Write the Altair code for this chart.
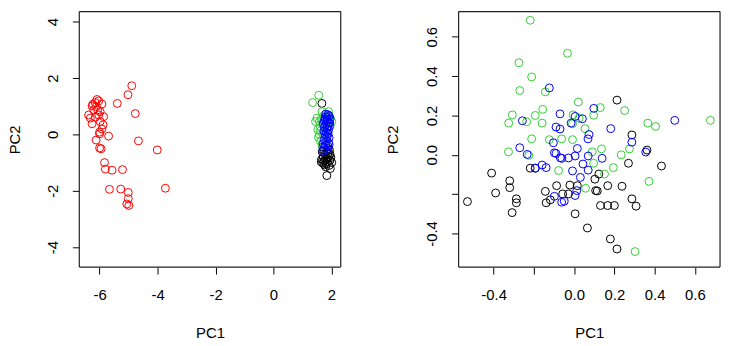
import altair as alt
import pandas as pd

# ---------------- Left panel (all four groups) ----------------
L_red_x = [-4.89, -5.02, -5.39, -4.77, -4.66, -4.01, -3.73, -5.69, -6.12, -6.00, -5.95,
           -5.83, -5.80, -5.57, -5.21, -5.66, -5.27, -5.01, -5.01, -5.06, -4.99,
           -6.09, -6.03, -6.15, -6.23, -6.26, -6.11, -5.92, -6.38, -6.32, -6.26,
           -6.15, -6.03, -5.86, -5.98, -5.88, -5.92, -6.00, -6.07, -5.98, -6.20, -6.00]
L_red_y = [1.73, 1.41, 1.10, 0.74, -0.23, -0.55, -1.91, -0.06, -0.20, -0.48, -0.51,
           -1.00, -1.23, -1.27, -1.25, -1.95, -1.94, -2.06, -2.28, -2.47, -2.52,
           1.24, 1.19, 1.13, 1.07, 1.01, 0.99, 1.08, 0.69, 0.58, 0.38,
           0.61, 0.69, 0.63, 0.46, 0.34, 0.19, 0.08, 0.87, 0.81, 0.87, 0.02]

L_green_x = [1.56, 1.35, 1.67, 1.50, 1.45, 1.53, 1.58, 1.62, 1.96, 2.01, 1.90, 1.75, 1.85,
             1.60, 1.80, 1.95, 1.70, 1.55, 1.65, 1.88, 1.72, 1.92, 1.58, 1.62, 1.78, 1.68]
L_green_y = [1.39, 1.13, 0.81, 0.58, 0.46, 0.17, -0.01, -0.24, 0.58, 0.46, 0.81, 0.30, 0.20,
             0.30, 0.72, 0.30, 0.02, -0.10, 0.55, 0.05, 0.65, 0.62, 0.45, 0.12, -0.15, -0.35]

L_blue_x = [1.80, 1.88, 1.92, 1.85, 1.78, 1.95, 1.75, 1.83, 1.90, 1.72, 1.80, 1.87, 1.93,
            1.76, 1.84, 1.90, 1.74, 1.82, 1.88, 1.78, 1.85, 1.92, 1.75, 1.83, 1.90, 1.72,
            1.80, 1.88, 1.76, 1.84, 1.70, 1.92, 1.86, 1.79, 1.94]
L_blue_y = [0.72, 0.70, 0.66, 0.60, 0.55, 0.55, 0.48, 0.45, 0.42, 0.38, 0.35, 0.30, 0.28,
            0.25, 0.20, 0.15, 0.12, 0.08, 0.02, -0.02, -0.08, -0.12, -0.18, -0.22, -0.30, -0.33,
            -0.38, -0.42, -0.48, -0.55, -0.58, -0.36, 0.52, 0.62, 0.40]

L_black_x = [1.67, 1.84, 1.96, 2.01, 1.65, 1.70, 1.75, 1.80, 1.85, 1.90, 1.95, 1.72, 1.78, 1.88,
             1.68, 1.82, 1.92, 1.76, 1.86, 1.98, 1.73, 1.83, 1.93, 1.66, 1.80, 1.70, 1.88, 1.95]
L_black_y = [1.10, -1.46, -1.21, -1.00, -0.98, -1.02, -0.95, -0.90, -0.85, -0.80, -0.92, -0.80,
             -0.72, -0.68, -0.62, -1.05, -1.10, -1.08, -0.98, -0.82, -0.55, -0.60, -0.55, -0.88,
             -1.15, -0.45, -0.50, -0.70]

# ---------------- Right panel (three groups) ----------------
R_green_x = [-0.218, -0.033, -0.274, -0.211, -0.270, -0.143, -0.307, -0.325, -0.193, -0.236,
             -0.156, -0.159, -0.211, -0.123, -0.062, -0.326, -0.225, -0.077, 0.021, -0.005,
             0.025, -0.008, -0.008, 0.054, 0.097, 0.130, 0.251, 0.366, 0.405, 0.677,
             0.090, 0.097, 0.136, 0.151, 0.195, 0.234, 0.275, 0.372, 0.057, 0.303]
R_green_y = [0.684, 0.516, 0.468, 0.396, 0.327, 0.320, 0.203, 0.161, 0.200, 0.168,
             0.231, 0.161, 0.081, 0.077, 0.081, 0.015, -0.003, -0.080, 0.268, 0.203,
             0.186, 0.158, 0.077, 0.133, 0.201, 0.240, 0.225, 0.161, 0.144, 0.175,
             0.015, -0.043, 0.030, -0.098, -0.065, 0.000, 0.030, -0.135, -0.170, -0.492]

R_blue_x = [-0.123, -0.257, -0.070, -0.015, 0.005, 0.041, 0.098, 0.182, -0.090, -0.070,
            -0.103, -0.098, -0.090, -0.069, -0.061, -0.028, 0.005, 0.016, 0.074, 0.069,
            0.070, 0.044, 0.070, -0.008, 0.031, 0.139, 0.287, 0.356, 0.500, -0.270,
            -0.233, -0.193, -0.159, -0.139, -0.098, -0.062, -0.049, 0.013, 0.005]
R_blue_y = [0.340, 0.173, 0.208, 0.161, 0.195, 0.183, 0.236, 0.133, 0.141, 0.131,
            0.061, 0.010, 0.007, -0.015, -0.018, -0.016, -0.006, 0.032, 0.103, 0.081,
            -0.006, -0.047, -0.078, -0.082, -0.115, -0.018, 0.064, 0.014, 0.175, 0.036,
            0.002, -0.068, -0.052, -0.065, -0.211, -0.241, -0.236, -0.182, -0.207]

R_black_x = [-0.530, -0.410, -0.390, -0.320, -0.320, -0.287, -0.287, -0.308, -0.218, -0.193,
             -0.143, -0.139, -0.118, -0.087, -0.057, -0.021, -0.028, 0.016, 0.005, 0.066,
             0.107, 0.115, 0.103, 0.123, 0.167, 0.238, 0.131, 0.167, 0.200, 0.287,
             0.308, 0.213, 0.287, 0.270, 0.362, 0.434, 0.180, 0.213]
R_black_y = [-0.238, -0.093, -0.194, -0.132, -0.167, -0.224, -0.244, -0.294, -0.068, -0.068,
             -0.186, -0.244, -0.229, -0.157, -0.199, -0.154, -0.199, -0.157, -0.300, -0.372,
             -0.182, -0.184, -0.124, -0.098, -0.157, -0.160, -0.258, -0.258, -0.258, -0.224,
             -0.261, 0.278, 0.101, -0.043, 0.024, -0.057, -0.428, -0.479]

L_xticks = [-6, -4, -2, 0, 2]
L_yticks = [-4, -2, 0, 2, 4]
R_xticks = [-0.4, -0.2, 0.0, 0.2, 0.4, 0.6]
R_yticks = [-0.4, -0.2, 0.0, 0.2, 0.4, 0.6]


def frame(groups):
    rows = []
    for name, xs, ys in groups:
        for a, b in zip(xs, ys):
            rows.append({"grp": name, "x": a, "y": b, "ord": len(rows)})
    return pd.DataFrame(rows)


left_df = frame([("black", L_black_x, L_black_y), ("red", L_red_x, L_red_y),
                 ("green", L_green_x, L_green_y), ("blue", L_blue_x, L_blue_y)])
right_df = frame([("black", R_black_x, R_black_y), ("green", R_green_x, R_green_y),
                  ("blue", R_blue_x, R_blue_y)])

color_scale = alt.Scale(domain=["black", "red", "green", "blue"],
                        range=["#000000", "#FF0000", "#33CC33", "#0000FF"])

FONT = "Liberation Sans"
W, H = 264, 258


def make_axis(title, orient, values, fmt, hide_neg02, title_x=None):
    lab = "(datum.value < 0 ? '-' : '') + format(abs(datum.value), '" + fmt + "')"
    if hide_neg02:
        lab = "abs(datum.value + 0.2) < 1e-6 ? '' : " + lab
    kw = dict(
        title=title, values=values, labelExpr=lab, grid=False, domain=False,
        tickSize=7, tickColor="black", tickWidth=1,
        labelFont=FONT, labelFontSize=15, labelColor="black",
        titleFont=FONT, titleFontSize=15, titleFontWeight="normal", titleColor="black",
        labelOverlap=False,
    )
    if orient == "x":
        kw.update(labelPadding=14, titleX=W / 2, titleY=66, titleBaseline="middle",
                  titleAlign="center", labelAngle=0)
    else:
        kw.update(labelPadding=12, labelAngle=270, labelAlign="center", labelBaseline="bottom",
                  titleX=title_x, titleY=H / 2, titleAngle=270, titleBaseline="middle",
                  titleAlign="center")
    return alt.Axis(**kw)


def edges(x1, x2, y1, y2):
    return pd.DataFrame({"x1": x1, "x2": x2, "y1": y1, "y2": y2})


def panel(df, xdom, ydom, xticks, yticks, fmt, hide, title_x):
    xs = alt.Scale(domain=xdom, nice=False, zero=False)
    ys = alt.Scale(domain=ydom, nice=False, zero=False)
    pts = alt.Chart(df).mark_point(shape="circle", filled=False, size=64,
                                   strokeWidth=1, opacity=1).encode(
        x=alt.X("x:Q", scale=xs, axis=make_axis("PC1", "x", xticks, fmt, hide)),
        y=alt.Y("y:Q", scale=ys, axis=make_axis("PC2", "y", yticks, fmt, hide, title_x=title_x)),
        color=alt.Color("grp:N", scale=color_scale, legend=None),
        order=alt.Order("ord:Q"),
    )
    # frame box: four edges drawn on the panel's own scales
    box_df = edges([xdom[0], xdom[0], xdom[0], xdom[1]], [xdom[1], xdom[1], xdom[0], xdom[1]],
                   [ydom[0], ydom[1], ydom[0], ydom[0]], [ydom[0], ydom[1], ydom[1], ydom[1]])
    box = alt.Chart(box_df).mark_rule(color="#222222", strokeWidth=1.2).encode(
        x=alt.X("x1:Q", scale=xs), x2="x2:Q", y=alt.Y("y1:Q", scale=ys), y2="y2:Q"
    )
    return alt.layer(pts, box).properties(width=W, height=H)


left = panel(left_df, [-6.70, 2.32], [-4.71, 4.36], L_xticks, L_yticks, ".0f", False, -65)
right = panel(right_df, [-0.574, 0.725], [-0.571, 0.728], R_xticks, R_yticks, ".1f", True, -67)

chart = alt.HConcatChart(hconcat=[left, right], spacing=119, bounds="flush").properties(
    padding={"left": 0, "top": 1, "right": 3, "bottom": 2},
    background="white",
).configure_view(stroke=None)

chart.save("out.html", embed_options={"renderer": "svg", "actions": False})
